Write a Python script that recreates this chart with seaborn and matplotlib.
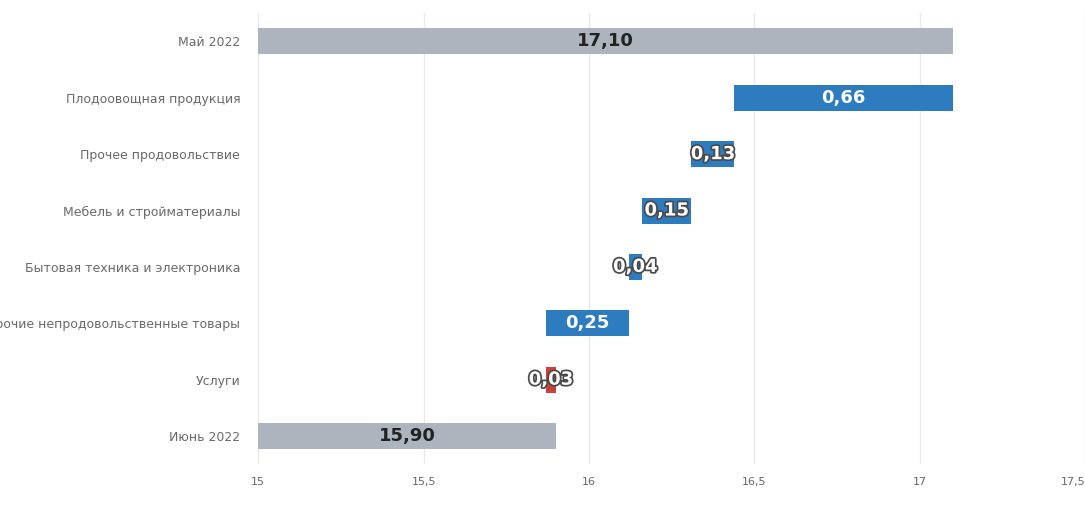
import numpy as np
import pandas as pd
import matplotlib
matplotlib.use("Agg")
import matplotlib.pyplot as plt
import matplotlib.patheffects as pe
from matplotlib.ticker import FuncFormatter
import seaborn as sns

categories = ["Май 2022", "Плодоовощная продукция", "Прочее продовольствие",
              "Мебель и стройматериалы", "Бытовая техника и электроника",
              "Прочие непродовольственные товары", "Услуги", "Июнь 2022"]
changes = [17.10, -0.66, -0.13, -0.15, -0.04, -0.25, 0.03, 15.90]
kinds = ["total", "down", "down", "down", "down", "down", "up", "total"]
x_ticks = [15, 15.5, 16, 16.5, 17, 17.5]
x_min, x_max = 15, 17.5

colors_map = {"total": "#adb4be", "down": "#2e7cc0", "up": "#c9413c"}

# waterfall geometry from values
starts, ends = [], []
level = 0.0
for v, k in zip(changes, kinds):
    if k == "total":
        s, e = x_min, v
        level = v
    else:
        s, e = level, level + v
        level = e
    starts.append(min(s, e))
    ends.append(max(s, e))
widths = [e - s for s, e in zip(starts, ends)]

df = pd.DataFrame({"cat": categories, "width": widths, "left": starts, "kind": kinds})

sns.set_theme(style="white")
plt.rcParams['font.family'] = ['DejaVu Sans']

fig = plt.figure(figsize=(10.85, 5.09), dpi=100)
ax = fig.add_axes([0.238, 0.088, 0.762, 0.886])

for k, col in colors_map.items():
    sub = df.copy()
    sub.loc[sub["kind"] != k, "width"] = 0
    sns.barplot(data=sub, x="width", y="cat", order=categories, orient="y",
                left=sub["left"].values, color=col, width=0.46,
                saturation=1, ax=ax, errorbar=None, zorder=3, linewidth=0)

ax.set_xlim(x_min, x_max)
ax.set_ylim(len(categories) - 0.5, -0.5)
ax.set_xticks(x_ticks)
ax.xaxis.set_major_formatter(FuncFormatter(lambda v, p: f"{v:g}".replace(".", ",")))
ax.grid(axis="x", color="#e8e8e8", linewidth=1, zorder=0)
ax.grid(axis="y", visible=False)
for s in ax.spines.values():
    s.set_visible(False)
ax.tick_params(axis="x", length=0, pad=9, labelsize=8, labelcolor="#666666")
ax.tick_params(axis="y", length=0, pad=13, labelsize=9, labelcolor="#6a6a6a")
ax.set_xlabel("")
ax.set_ylabel("")
xlabels = ax.get_xticklabels()
xlabels[-1].set_horizontalalignment("right")

for i, (v, k, s, w) in enumerate(zip(changes, kinds, starts, widths)):
    txt = f"{abs(v):.2f}".replace(".", ",")
    cx = s + w / 2
    if k == "total":
        ax.text(cx, i, txt, ha="center", va="center", fontsize=13,
                fontweight="bold", color="#222222", zorder=5)
    else:
        t = ax.text(cx, i, txt, ha="center", va="center", fontsize=13,
                    fontweight="bold", color="white", zorder=5)
        if w < 0.2:
            t.set_path_effects([pe.withStroke(linewidth=2.5, foreground="#4a4a4a")])

fig.savefig("out.png", dpi=100)
